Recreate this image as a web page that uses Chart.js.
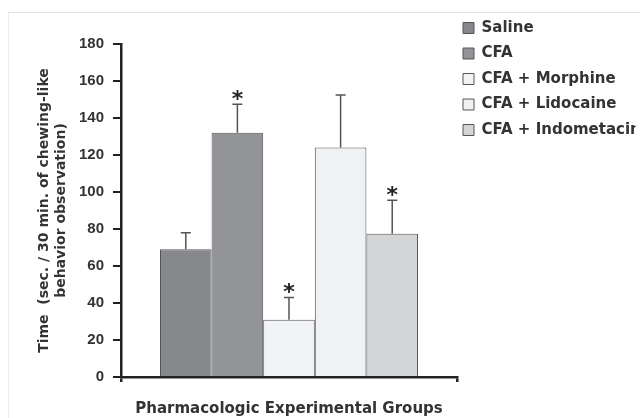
<!DOCTYPE html>
<html><head><meta charset="utf-8">
<script src="https://cdn.jsdelivr.net/npm/chart.js@4/dist/chart.umd.min.js"></script>
<style>
html,body{margin:0;padding:0;background:#fff;}
#wrap{position:relative;width:640px;height:418px;overflow:hidden;background:#fff;}
#frame{position:absolute;left:8px;top:12px;width:640px;height:420px;border-top:1px solid #e3e3e3;border-left:1px solid #ededed;}
canvas{position:absolute;left:0;top:0;}
</style></head><body>
<div id="wrap"><div id="frame"></div><canvas id="c" width="640" height="418"></canvas></div>
<script>
// ---- data ----
const groups = ['Saline', 'CFA', 'CFA + Morphine', 'CFA + Lidocaine', 'CFA + Indometacine'];
const means = [69, 132, 31, 124, 77.5];
const errors = [9, 15.5, 12, 28.5, 18];
const significant = [false, true, true, false, true];
const yTickValues = [0, 20, 40, 60, 80, 100, 120, 140, 160, 180];
const yTitle = ['Time  (sec. / 30 min. of chewing-like', 'behavior observation)'];
const xTitle = 'Pharmacologic Experimental Groups';

// ---- styles ----
const fills = ['#87888c', '#939497', '#f2f3f4', '#f0f1f3', '#d3d4d6'];
const FONT = 'DejaVu Sans';
const TICKFONT = 'Liberation Sans';
const TEXT = '#333333';
const AXIS = '#222222';

const datasets = groups.map((g, i) => ({
  label: g,
  data: [means[i]],
  backgroundColor: fills[i],
  borderColor: '#555558',
  borderWidth: 1
}));

const errorBars = {
  id: 'errorBars',
  afterDatasetsDraw(chart) {
    const ctx = chart.ctx;
    const ys = chart.scales.y;
    ctx.save();
    chart.data.datasets.forEach((ds, i) => {
      const bar = chart.getDatasetMeta(i).data[0];
      if (!bar) return;
      const x = bar.x;
      const yTop = ys.getPixelForValue(means[i]);
      const yErr = ys.getPixelForValue(means[i] + errors[i]);
      ctx.strokeStyle = '#555555';
      ctx.lineWidth = 1.5;
      ctx.beginPath();
      ctx.moveTo(x, yTop);
      ctx.lineTo(x, yErr);
      ctx.moveTo(x - 5, yErr);
      ctx.lineTo(x + 5, yErr);
      ctx.stroke();
      if (significant[i]) {
        ctx.fillStyle = '#222222';
        ctx.font = 'bold 22px "' + FONT + '"';
        ctx.textAlign = 'center';
        ctx.textBaseline = 'alphabetic';
        ctx.fillText('*', x, yErr + 2);
      }
    });
    ctx.restore();
  }
};

const legendShift = {
  id: 'legendShift',
  afterLayout(chart) {
    const lg = chart.legend;
    if (lg) { lg.left -= 4.5; lg.right -= 4.5; }
  }
};

new Chart(document.getElementById('c'), {
  type: 'bar',
  data: { labels: [''], datasets },
  options: {
    responsive: false,
    animation: false,
    devicePixelRatio: 1,
    layout: { padding: { top: 10, left: 36, right: 0, bottom: 0 } },
    datasets: { bar: { categoryPercentage: 0.768, barPercentage: 1.0 } },
    plugins: {
      tooltip: { enabled: false },
      title: { display: true, text: '', fullSize: false, font: { size: 10 }, padding: { top: 0, bottom: 22 } },
      legend: {
        position: 'right', align: 'start', maxWidth: 183,
        labels: {
          boxWidth: 11, boxHeight: 11, padding: 10.5, color: TEXT,
          font: { family: FONT, weight: 'bold', size: 15 }
        }
      }
    },
    scales: {
      x: {
        offset: true,
        ticks: { display: false },
        grid: { display: true, offset: true, drawOnChartArea: false, drawTicks: true, tickLength: 5, color: AXIS, lineWidth: 2.5 },
        border: { display: true, color: AXIS, width: 2.5 },
        title: { display: true, text: xTitle, color: TEXT, font: { family: FONT, weight: 'bold', size: 15 }, padding: 0 },
        afterFit(s) { s.height = 41; }
      },
      y: {
        min: 0, max: 180,
        afterBuildTicks(s) { s.ticks = yTickValues.map(v => ({ value: v })); },
        ticks: { padding: 9, color: TEXT, font: { family: TICKFONT, weight: 'bold', size: 15 } },
        grid: { display: true, drawOnChartArea: false, drawTicks: true, tickLength: 8, color: AXIS, lineWidth: 2 },
        border: { display: true, color: AXIS, width: 2.5 },
        title: { display: true, text: yTitle, color: TEXT, font: { family: FONT, weight: 'bold', size: 14 }, padding: { top: 0, bottom: 0 } },
        afterFit(s) { s.width = 85; }
      }
    }
  },
  plugins: [errorBars, legendShift]
});
</script>
</body></html>
